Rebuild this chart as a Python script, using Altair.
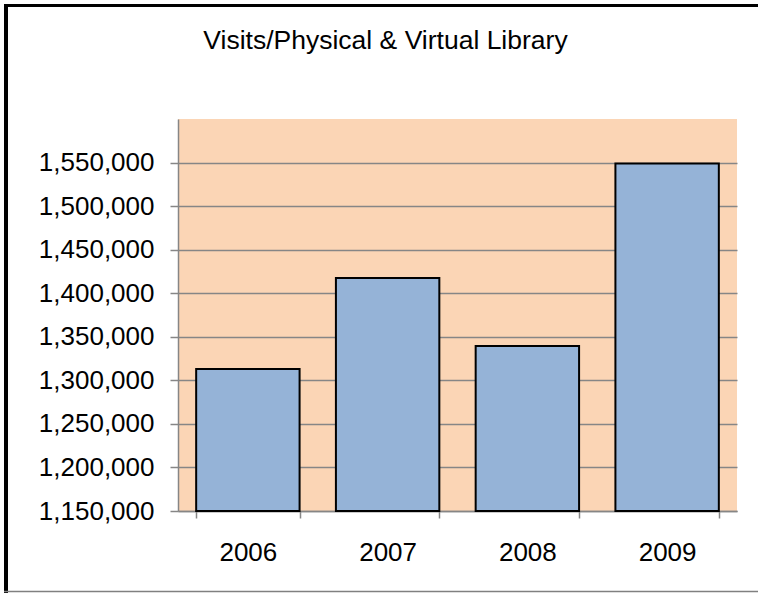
import altair as alt
import pandas as pd

title_text = "Visits/Physical & Virtual Library"
years = ["2006", "2007", "2008", "2009"]
visits = [1313000, 1417500, 1339500, 1549000]
y_ticks = [1150000, 1200000, 1250000, 1300000, 1350000, 1400000, 1450000, 1500000, 1550000]
y_domain = [1150000, 1600000]

df = pd.DataFrame({"year": years, "visits": visits})
FONT = "Liberation Sans"

bars = alt.Chart(df).mark_bar(
    fill="#95B3D7", stroke="#000000", strokeWidth=2
).encode(
    x=alt.X("year:N", title=None, sort=years,
            scale=alt.Scale(paddingInner=0.26, paddingOuter=0.13),
            axis=alt.Axis(labelAngle=0, tickBand="extent", tickSize=7, tickColor="#868686",
                          tickWidth=1.5, domainColor="#868686", domainWidth=1.5,
                          labelFontSize=26, labelFont=FONT, labelColor="#000000",
                          labelPadding=21, grid=False)),
    y=alt.Y("visits:Q", title=None,
            scale=alt.Scale(domain=y_domain, zero=False, nice=False),
            axis=alt.Axis(values=y_ticks, format=",d", tickSize=8, tickColor="#868686",
                          tickWidth=1.5, domainColor="#868686", domainWidth=1.5,
                          gridColor="#868686", gridWidth=1.5, grid=True,
                          labelFontSize=26, labelFont=FONT, labelColor="#000000",
                          labelPadding=16)),
    y2=alt.datum(1150000),
)

dummy = pd.DataFrame({"d": [0]})
title_mark = alt.Chart(dummy).mark_text(
    text=title_text, font=FONT, fontSize=26.5, color="#000000",
    align="center", baseline="alphabetic"
).encode(x=alt.value(207.5), y=alt.value(-70))
left_border = alt.Chart(dummy).mark_rule(color="#000000", strokeWidth=4).encode(
    x=alt.value(-172), y=alt.value(-115), y2=alt.value(475))
top_border = alt.Chart(dummy).mark_rule(color="#000000", strokeWidth=3).encode(
    y=alt.value(-113.5), x=alt.value(-174), x2=alt.value(580))
bottom_border = alt.Chart(dummy).mark_rule(color="#808080", strokeWidth=1.5).encode(
    y=alt.value(472.5), x=alt.value(-174), x2=alt.value(580))

chart = alt.layer(bars, title_mark, left_border, top_border, bottom_border).properties(
    width=559, height=392,
    autosize=alt.AutoSizeParams(type="none"),
    padding={"left": 178, "top": 119, "right": 21, "bottom": 82},
    background="#FFFFFF",
).configure_view(fill="#FBD5B5", strokeWidth=0)

chart.save("out.html", embed_options={"renderer": "svg", "actions": False})
